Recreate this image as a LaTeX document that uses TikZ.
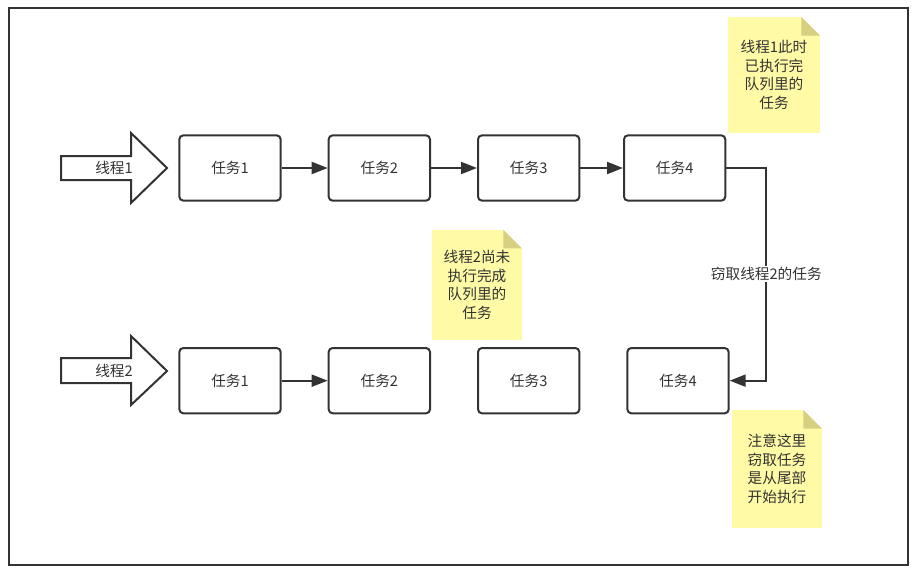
\documentclass[tikz,border=0pt]{standalone}
\usepackage{fontspec}
\setmainfont{Noto Sans CJK SC}
\usetikzlibrary{positioning,arrows.meta}
\definecolor{linegray}{RGB}{51,51,51}
\definecolor{notebg}{RGB}{255,250,165}
\definecolor{notefold}{RGB}{214,208,128}

\begin{document}
\begin{tikzpicture}[x=0.75pt,y=-0.75pt,
		font=\fontsize{11}{14}\selectfont, text=linegray,
		node distance=34.5pt,
		task/.style={draw=linegray, line width=1.5pt, rounded corners=3pt,
			minimum width=76pt, minimum height=49pt},
		flow/.style={draw=linegray, line width=1.5pt,
			-{Triangle[length=12pt,width=9pt]}},
		thread/.style={draw=linegray, line width=1.5pt, fill=white},
		note/.style={fill=notebg, align=center, inner sep=0pt,
			path picture={
				\fill[white] ([xshift=-14pt]path picture bounding box.north east)
					-- (path picture bounding box.north east)
					-- ([yshift=-14pt]path picture bounding box.north east) -- cycle;
				\fill[notefold] ([xshift=-14pt]path picture bounding box.north east)
					-- ([yshift=-14pt]path picture bounding box.north east)
					-- ([xshift=-14pt,yshift=-14pt]path picture bounding box.north east) -- cycle;
			}}]
	\useasboundingbox (0,0) rectangle (918,575);
	\draw[linegray, line width=1.5pt] (9,8) rectangle (908,565);
	
	% threads
	\draw[thread] (61,156) -- (131,156) -- (131,133) -- (167,168) -- (131,203) -- (131,180) -- (61,180) -- cycle;
	\node (th1) at (114,168) {线程1};
	\draw[thread] (61,358) -- (131,358) -- (131,336) -- (167,371) -- (131,405) -- (131,383) -- (61,383) -- cycle;
	\node (th2) at (114,371) {线程2};
	
	% tasks of thread 1
	\node[task] (t11) at (230,168) {任务1};
	\node[task, right=of t11] (t12) {任务2};
	\node[task, right=of t12] (t13) {任务3};
	\node[task, right=32pt of t13] (t14) {任务4};
	
	% tasks of thread 2
	\node[task, below=109pt of t11] (t21) {任务1};
	\node[task, right=of t21] (t22) {任务2};
	\node[task, right=of t22] (t23) {任务3};
	\node[task, right=of t23] (t24) {任务4};
	
	\draw[flow] (t11) -- (t12);
	\draw[flow] (t12) -- (t13);
	\draw[flow] (t13) -- (t14);
	\draw[flow] (t21) -- (t22);
	\draw[flow] (t14.east) -- ++(40,0) |- (t24.east)
		node[pos=0.25, fill=white, inner sep=1pt] (steal) {窃取线程2的任务};
	
	% notes
	\node[note, minimum width=69pt, minimum height=87pt] (n1) at (774,75)
		{线程1此时\\已执行完\\队列里的\\任务};
	\node[note, minimum width=67.5pt, minimum height=83pt] (n2) at (477,285)
		{线程2尚未\\执行完成\\队列里的\\任务};
	\node[note, minimum width=67.5pt, minimum height=88.5pt] (n3) at (777,469)
		{注意这里\\窃取任务\\是从尾部\\开始执行};
\end{tikzpicture}
\end{document}
